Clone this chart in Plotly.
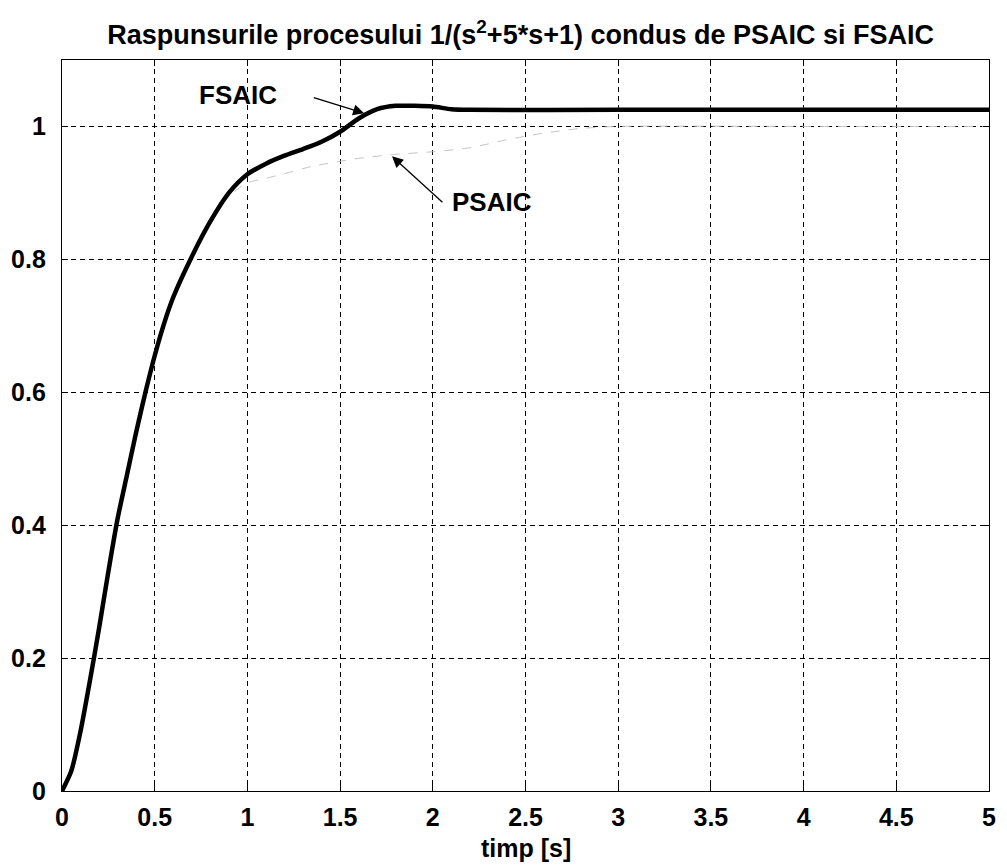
import plotly.graph_objects as go

# FSAIC response (thick curve)
t_fsaic = [0, 0.05, 0.1, 0.15, 0.2, 0.25, 0.3, 0.35, 0.4, 0.45, 0.5, 0.55, 0.6, 0.7, 0.8, 0.9,
           1.0, 1.1, 1.2, 1.3, 1.4, 1.5, 1.6, 1.7, 1.8, 1.9, 2.0, 2.1, 2.2, 3.0, 4.0, 5.0]
y_fsaic = [0, 0.03, 0.09, 0.165, 0.245, 0.33, 0.41, 0.475, 0.54, 0.6, 0.655, 0.703, 0.743, 0.804, 0.857, 0.9,
           0.928, 0.944, 0.956, 0.966, 0.977, 0.992, 1.012, 1.026, 1.031, 1.031, 1.03, 1.026, 1.025, 1.025, 1.025, 1.025]

# PSAIC response (faint thin curve)
t_psaic = [0, 0.05, 0.1, 0.15, 0.2, 0.25, 0.3, 0.35, 0.4, 0.45, 0.5, 0.55, 0.6, 0.7, 0.8, 0.9,
           1.0, 1.1, 1.2, 1.35, 1.6, 1.8, 2.0, 2.2, 2.4, 2.6, 2.8, 3.0, 4.0, 5.0]
y_psaic = [0, 0.03, 0.09, 0.165, 0.245, 0.33, 0.41, 0.475, 0.54, 0.6, 0.655, 0.703, 0.743, 0.804, 0.857, 0.895,
           0.915, 0.922, 0.929, 0.94, 0.952, 0.958, 0.962, 0.968, 0.98, 0.99, 0.997, 1.0, 1.0, 1.0]

x_ticks = [0, 0.5, 1, 1.5, 2, 2.5, 3, 3.5, 4, 4.5, 5]
x_tick_labels = ["0", "0.5", "1", "1.5", "2", "2.5", "3", "3.5", "4", "4.5", "5"]
y_ticks = [0, 0.2, 0.4, 0.6, 0.8, 1.0]
y_tick_labels = ["0", "0.2", "0.4", "0.6", "0.8", "1"]

FONT = "Arial, 'Liberation Sans', sans-serif"

fig = go.Figure()
fig.add_trace(go.Scatter(x=t_psaic, y=y_psaic, mode="lines",
                         line=dict(color="#c4c4c4", width=1, dash="dash", shape="spline", smoothing=0.7),
                         name="PSAIC", showlegend=False))
fig.add_trace(go.Scatter(x=t_fsaic, y=y_fsaic, mode="lines",
                         line=dict(color="black", width=4.5, shape="spline", smoothing=0.7),
                         name="FSAIC", showlegend=False))

axis_common = dict(
    showline=True, linecolor="black", linewidth=1.3, mirror="ticks",
    ticks="inside", ticklen=6, tickcolor="black", tickwidth=1,
    showgrid=True, gridcolor="black", gridwidth=1, griddash="5px,4px",
    zeroline=False,
    tickfont=dict(family=FONT, size=25, color="black", weight="bold"),
)

fig.update_xaxes(range=[0, 5], tickvals=x_ticks, ticktext=x_tick_labels,
                 ticklabelstandoff=4, **axis_common)
fig.update_yaxes(range=[0, 1.1], tickvals=y_ticks, ticktext=y_tick_labels,
                 ticklabelstandoff=10, **axis_common)

# arrows
fig.add_annotation(x=1.63, y=1.02, ax=1.35, ay=1.044, xref="x", yref="y", axref="x", ayref="y",
                   text="", showarrow=True, arrowhead=2, arrowsize=1.7, arrowwidth=1.3, arrowcolor="black")
fig.add_annotation(x=1.78, y=0.955, ax=2.06, ay=0.884, xref="x", yref="y", axref="x", ayref="y",
                   text="", showarrow=True, arrowhead=2, arrowsize=1.7, arrowwidth=1.3, arrowcolor="black")
# labels
fig.add_annotation(x=0.95, y=1.048, xref="x", yref="y", text="FSAIC", showarrow=False,
                   font=dict(family=FONT, size=26, color="black", weight="bold"))
fig.add_annotation(x=2.32, y=0.887, xref="x", yref="y", text="PSAIC", showarrow=False,
                   font=dict(family=FONT, size=26, color="black", weight="bold"))

# axis title
fig.add_annotation(x=0.5, y=0, xref="paper", yref="paper", yanchor="middle", yshift=-57,
                   text="timp [s]", showarrow=False,
                   font=dict(family=FONT, size=25, color="black", weight="bold"))

fig.update_layout(
    width=1007, height=865,
    margin=dict(l=60, r=11, t=60, b=74),
    paper_bgcolor="white", plot_bgcolor="white",
    title=dict(text="Raspunsurile procesului 1/(s<sup>2</sup>+5*s+1) condus de PSAIC si FSAIC",
               x=0.517, xanchor="center", y=1 - 35 / 865, yanchor="middle", yref="container",
               font=dict(family=FONT, size=27, color="black", weight="bold")),
    showlegend=False,
)

fig.write_html("out.html")
